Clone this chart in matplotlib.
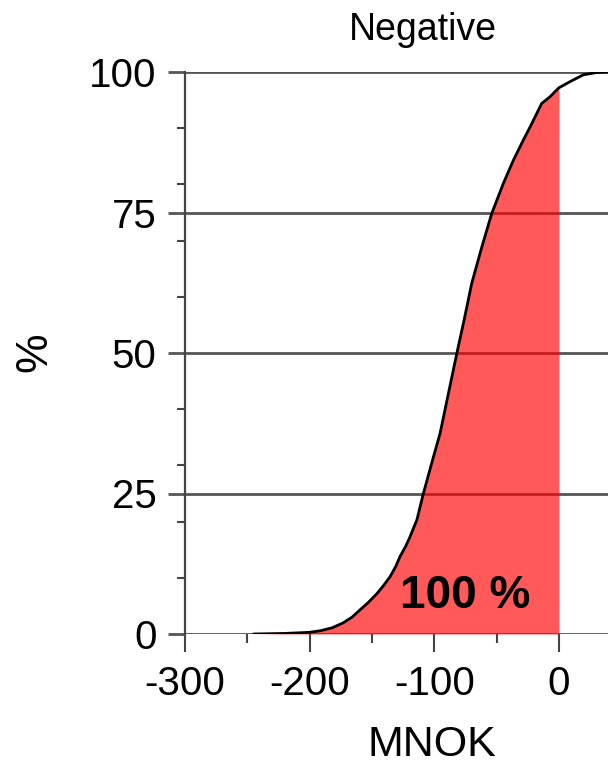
import numpy as np
import matplotlib
matplotlib.use("Agg")
import matplotlib.pyplot as plt
from matplotlib.ticker import MultipleLocator, FixedLocator

# ---- data ----
mnok = [-245, -220, -200, -191, -182, -173, -166, -159.6, -153, -146, -140.5,
        -135.5, -131, -127.5, -123, -119.5, -116.8, -114, -108.8, -102, -95.4,
        -89, -82, -76, -70, -62, -54, -44.6, -36.6, -28.6, -23, -17.9, -13.9,
        -7.2, -0.5, 0, 9, 19.5, 30, 39.3]
pct = [0.0, 0.1, 0.3, 0.6, 1.1, 2.0, 3.0, 4.3, 5.6, 7.2, 8.7,
       10.2, 12.0, 13.8, 15.6, 17.3, 18.8, 20.3, 25.0, 30.5, 35.7,
       42.5, 49.9, 56.0, 62.4, 68.8, 74.8, 80.2, 84.3, 87.9, 90.3, 92.6, 94.4,
       95.6, 97.1, 97.2, 98.3, 99.5, 99.9, 100.0]
x_major = [-300, -200, -100, 0]
y_major = [0, 25, 50, 75, 100]
title = "Negative"
share_label = "100 %"

fam = ["Liberation Sans", "DejaVu Sans"]
plt.rcParams["font.family"] = fam

x = np.array(mnok)
y = np.array(pct)

W, H = 608, 768
fig = plt.figure(figsize=(W / 100, H / 100), dpi=100)
ax = fig.add_axes([185 / W, 1 - 634 / H, (W - 185) / W, (634 - 72) / H])
ax.set_xlim(-300, 39.3)
ax.set_ylim(0, 100)

grid_c = "#555555"
for v in y_major:
    ax.axhline(v, color=grid_c, lw=2.0, zorder=1)

m = x <= 0
ax.fill_between(x[m], 0, y[m], color="red", alpha=0.65, lw=0, zorder=2)
ax.plot(x, y, color="black", lw=2.0, zorder=3, solid_joinstyle="round",
        solid_capstyle="round")

for s in ["top", "right", "bottom"]:
    ax.spines[s].set_visible(False)
ax.spines["left"].set_color("#444444")
ax.spines["left"].set_linewidth(1.6)

ax.xaxis.set_major_locator(FixedLocator(x_major))
ax.xaxis.set_minor_locator(MultipleLocator(50))
ax.yaxis.set_major_locator(FixedLocator(y_major))
ax.yaxis.set_minor_locator(MultipleLocator(10))

ax.tick_params(axis="x", which="major", length=13, width=1.5, color="#444444",
               pad=9, labelsize=29)
ax.tick_params(axis="x", which="minor", length=6.5, width=1.5, color="#444444")
ax.tick_params(axis="y", which="major", length=12.5, width=2.0, color=grid_c,
               pad=8, labelsize=29)
ax.tick_params(axis="y", which="minor", length=6, width=1.5, color="#444444")
ax.set_xticklabels([str(v) for v in x_major])
ax.set_yticklabels([str(v) for v in y_major])

ax.text(-75, 6.8, share_label, fontsize=33, fontweight="bold",
        ha="center", va="center", zorder=4)

fig.text(423 / W, 1 - 30 / H, title, fontsize=27, ha="center", va="center")
fig.text(35 / W, 1 - 352 / H, "%", fontsize=32, ha="center", va="center", rotation=90)
fig.text(432 / W, 1 - 745 / H, "MNOK", fontsize=31, ha="center", va="center")

fig.savefig("out.png", dpi=100)
